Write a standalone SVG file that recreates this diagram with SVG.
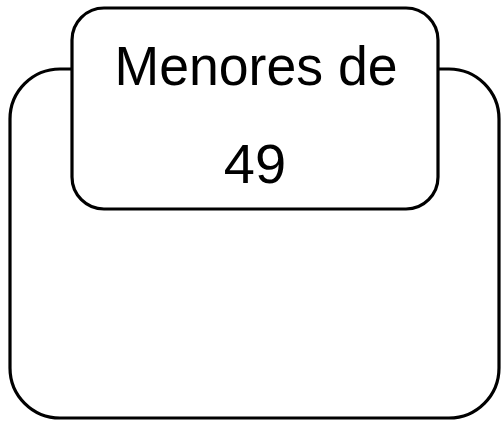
<svg xmlns="http://www.w3.org/2000/svg" width="501" height="421" viewBox="0 0 501 421">
<style>
.box{fill:#fff;stroke:#000;stroke-width:3.2}
.t{font-family:"Liberation Sans",Arial,sans-serif;font-size:56px;fill:#000;text-anchor:middle}
</style>
<rect width="501" height="421" fill="#fff"/>
<g id="outer"><rect class="box" x="10" y="69" width="489" height="349" rx="50" ry="50"/></g>
<g id="label">
<rect class="box" x="72" y="8" width="366" height="201" rx="32" ry="32"/>
<text class="t" x="256" y="85" textLength="283" lengthAdjust="spacingAndGlyphs">Menores de</text>
<text class="t" x="255" y="183">49</text>
</g>
<g id="connectors"/>
</svg>
